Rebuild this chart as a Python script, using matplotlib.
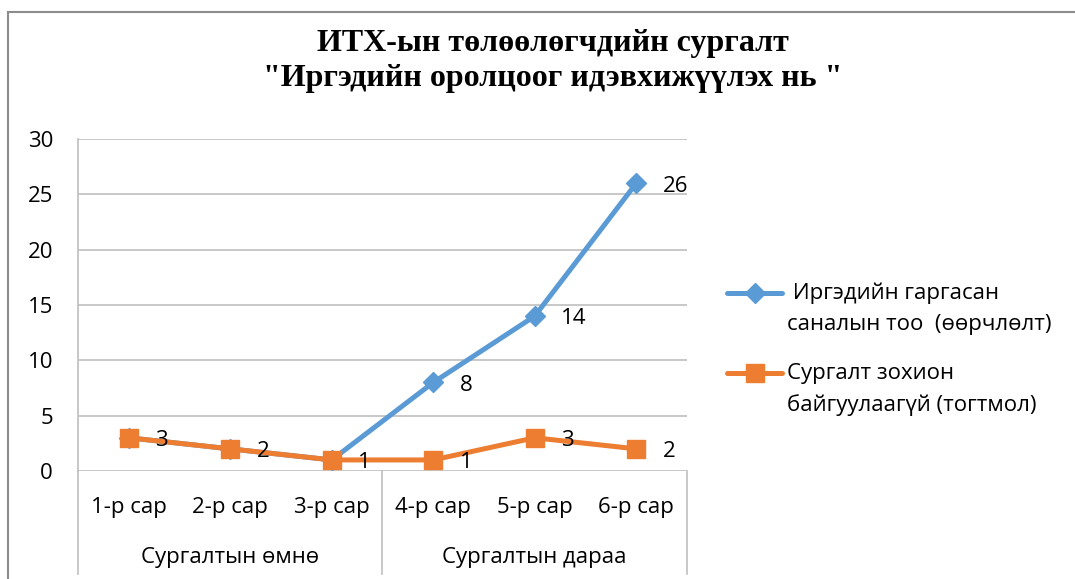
import matplotlib
matplotlib.use('Agg')
import matplotlib.pyplot as plt
from matplotlib.lines import Line2D
import matplotlib.transforms as mtransforms

plt.rcParams['font.family'] = ['Open Sans', 'DejaVu Sans']

# data
months = ["1-р сар", "2-р сар", "3-р сар", "4-р сар", "5-р сар", "6-р сар"]
groups = ["Сургалтын өмнө", "Сургалтын дараа"]
group_sizes = [3, 3]
ideas = [3, 2, 1, 8, 14, 26]
no_training = [3, 2, 1, 1, 3, 2]
label_ideas = " Иргэдийн гаргасан\nсаналын тоо  (өөрчлөлт)"
label_const = "Сургалт зохион\nбайгуулаагүй (тогтмол)"
title = 'ИТХ-ын төлөөлөгчдийн сургалт\n"Иргэдийн оролцоог идэвхижүүлэх нь "'

BLUE = "#5B9BD5"
ORANGE = "#ED7D31"
GRID = "#BFBFBF"
FS = 16

W, H = 1075, 579
fig = plt.figure(figsize=(W / 100, H / 100), dpi=100)
fig.patch.set_facecolor('white')

# outer chart border (top + left only visible)
fig.add_artist(Line2D([8 / W, 1.0], [1 - 12 / H, 1 - 12 / H], color='#8C8C8C', lw=1.5))
fig.add_artist(Line2D([8 / W, 8 / W], [0, 1 - 12 / H], color='#8C8C8C', lw=1.5))

left, right, top, bottom = 78, 687, 139, 471
ax = fig.add_axes([left / W, 1 - bottom / H, (right - left) / W, (bottom - top) / H])

x = list(range(len(months)))
ax.plot(x, ideas, color=BLUE, lw=3.6, marker='D', ms=10, zorder=3, clip_on=False)
ax.plot(x, no_training, color=ORANGE, lw=3.6, marker='s', ms=13, zorder=4, clip_on=False)

for i, v in enumerate(no_training):
    ax.annotate(str(v), (i, v), xytext=(19, -2), textcoords='offset points',
                ha='left', va='center', fontsize=FS, color='black', zorder=5)
for i, v in enumerate(ideas):
    if v != no_training[i]:
        ax.annotate(str(v), (i, v), xytext=(19, -2), textcoords='offset points',
                    ha='left', va='center', fontsize=FS, color='black', zorder=5)

ax.set_xlim(-0.5, len(months) - 0.5)
ax.set_ylim(0, 30)
ax.set_yticks(range(0, 31, 5))
ax.yaxis.grid(True, color=GRID, lw=1.2)
ax.set_axisbelow(True)
ax.tick_params(axis='y', length=0, pad=18, labelsize=FS)
ax.set_xticks([])
for s in ['top', 'right', 'bottom']:
    ax.spines[s].set_visible(False)
ax.spines['left'].set_color(GRID)
ax.spines['left'].set_linewidth(1.2)

# multi-level category axis
trans = mtransforms.blended_transform_factory(ax.transData, ax.transAxes)
ph = bottom - top
def ypx(py):
    return (bottom - py) / ph

for i, m in enumerate(months):
    ax.text(i, ypx(507), m, transform=trans, ha='center', va='center',
            fontsize=FS, clip_on=False)

start = 0
bounds = [-0.5]
for g, n in zip(groups, group_sizes):
    ax.text(start + (n - 1) / 2, ypx(558), g, transform=trans, ha='center',
            va='center', fontsize=FS, clip_on=False)
    start += n
    bounds.append(start - 0.5)
for b in bounds:
    ax.add_artist(Line2D([b, b], [0, ypx(574)], transform=trans, color=GRID,
                         lw=1.2, clip_on=False))

# title
fig.text(553 / W, 1 - 61 / H, title, ha='center', va='center', fontsize=23,
         fontweight='bold', family=['Liberation Serif', 'DejaVu Serif'],
         linespacing=1.25)

# legend drawn by hand
for ly, col, mk, ms, txt, tx in [(293, BLUE, 'D', 10, label_ideas, 787),
                                 (373, ORANGE, 's', 13, label_const, 787)]:
    fig.add_artist(Line2D([727 / W, 782 / W], [1 - ly / H] * 2, color=col, lw=3.6,
                          solid_capstyle='round'))
    fig.add_artist(Line2D([754.5 / W], [1 - ly / H], color=col, marker=mk, ms=ms))
    fig.text(tx / W, 1 - (ly - 10) / H, txt, ha='left', va='top', fontsize=FS,
             linespacing=1.6)

fig.savefig('out.png', dpi=100, facecolor='white')
